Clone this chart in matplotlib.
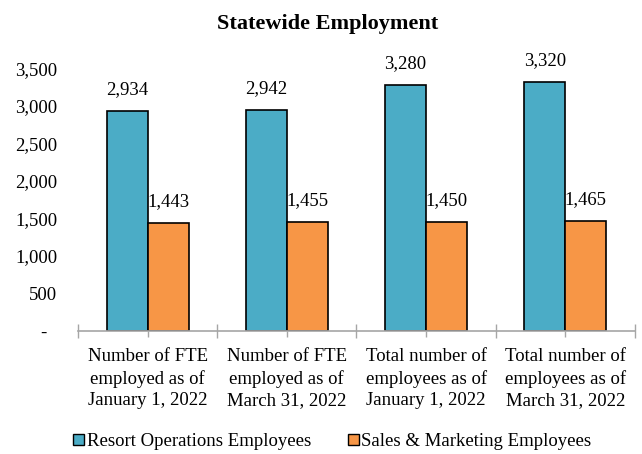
import numpy as np
import matplotlib
matplotlib.use("Agg")
import matplotlib.pyplot as plt
from matplotlib.patches import Patch
from matplotlib.ticker import FixedLocator

plt.rcParams['font.family'] = ['Liberation Serif', 'DejaVu Serif']

# Datos
categorias = [
    "Number of FTE\nemployed as of\nJanuary 1, 2022",
    "Number of FTE\nemployed as of\nMarch 31, 2022",
    "Total number of\nemployees as of\nJanuary 1, 2022",
    "Total number of\nemployees as of\nMarch 31, 2022",
]
resort = [2934, 2942, 3280, 3320]
ventas = [1443, 1455, 1450, 1465]
series = ["Resort Operations Employees", "Sales & Marketing Employees"]
yticks = [0, 500, 1000, 1500, 2000, 2500, 3000, 3500]
ytick_labels = ["-  ", "500", "1,000", "1,500", "2,000", "2,500", "3,000", "3,500"]

azul = "#4BACC6"
naranja = "#F79646"

fig = plt.figure(figsize=(6.42, 4.54), dpi=100)
ax = fig.add_axes([0.1215, 0.271, 0.8675, 0.579])

x = np.arange(len(categorias))
ancho = 0.295
b1 = ax.bar(x - ancho / 2, resort, ancho, color=azul, edgecolor="black", linewidth=1.2, zorder=2)
b2 = ax.bar(x + ancho / 2, ventas, ancho, color=naranja, edgecolor="black", linewidth=1.2, zorder=2)

for barras in (b1, b2):
    for b in barras:
        ax.annotate(f"{int(b.get_height()):,}",
                    (b.get_x() + b.get_width() / 2, b.get_height()),
                    xytext=(0, 9), textcoords="offset points",
                    ha="center", va="bottom", fontsize=13.5)

ax.set_xlim(-0.5, len(categorias) - 0.5)
ax.set_ylim(0, 3500)
ax.set_yticks(yticks)
ax.set_yticklabels(ytick_labels, fontsize=13.5)
ax.tick_params(axis="y", length=0, pad=15)

# ticks del eje x en los limites de cada categoria
ax.xaxis.set_major_locator(FixedLocator(np.arange(-0.5, len(categorias), 1.0)))
ax.set_xticklabels([""] * (len(categorias) + 1))
ax.set_xticks(x, minor=True)
ax.set_xticklabels(categorias, minor=True, fontsize=13.5, linespacing=1.37)
ax.tick_params(axis="x", which="major", direction="inout", length=10, color="#A6A6A6", width=1)
ax.tick_params(axis="x", which="minor", direction="out", length=4, color="#A6A6A6", width=1, pad=8)

for lado in ["left", "right", "top"]:
    ax.spines[lado].set_visible(False)
ax.spines["bottom"].set_color("#A6A6A6")
ax.spines["bottom"].set_linewidth(1.2)

fig.text(0.511, 0.947, "Statewide Employment", fontsize=16, fontweight="bold",
         ha="center", va="center")

handles = [Patch(facecolor=azul, edgecolor="black"), Patch(facecolor=naranja, edgecolor="black")]
fig.legend(handles, series, loc="lower center", bbox_to_anchor=(0.518, -0.028), ncol=2,
           frameon=False, fontsize=13.5, handlelength=0.55, handleheight=0.55,
           handletextpad=0.15, columnspacing=2.0)

fig.savefig("out.png", dpi=100)
